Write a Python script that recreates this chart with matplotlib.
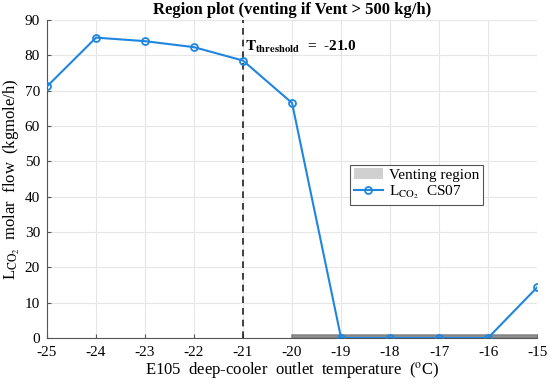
import numpy as np
import matplotlib
matplotlib.use("Agg")
import matplotlib.pyplot as plt
from matplotlib.patches import Patch

plt.rcParams['font.family'] = 'serif'
plt.rcParams['font.serif'] = ['Liberation Serif', 'DejaVu Serif']
plt.rcParams['mathtext.fontset'] = 'stix'
plt.rcParams['axes.unicode_minus'] = False

# data
temps = [-25, -24, -23, -22, -21, -20, -19, -18, -17, -16, -15]
l_co2 = [71.2, 85.0, 84.0, 82.3, 78.5, 66.5, 0.0, 0.0, 0.0, 0.0, 14.3]
vent_start, vent_end = -20, -15
vent_height = 0.9
t_threshold = -21.0

BLUE = '#1f86e0'

fig = plt.figure(figsize=(5.5, 3.84), dpi=100)
ax = fig.add_axes([0.0855, 0.12, 0.891, 0.828])

ax.fill_between([vent_start, vent_end], 0, vent_height, color='#7f7f7f',
                alpha=0.85, lw=1.2, edgecolor='#7f7f7f', zorder=2)
ax.plot(temps, l_co2, '-o', color=BLUE, lw=1.5, ms=5, mfc='none', mew=1.3, zorder=3)
ax.axvline(t_threshold, color='#222222', ls=(0, (4, 3)), lw=1.2, zorder=2)
ax.text(t_threshold + 0.05, 82.5,
        r'$\mathbf{T_{threshold}}$  =  -21.0',
        fontsize=11, fontweight='bold', va='center', ha='left')

ax.set_xlim(-25, -15)
ax.set_ylim(0, 90)
ax.set_xticks(np.arange(-25, -14, 1))
ax.set_yticks(np.arange(0, 91, 10))
ax.tick_params(labelsize=11, direction='in', length=3, color='#555555')
ax.tick_params(axis='x', pad=6)
ax.tick_params(axis='y', pad=5)
ax.grid(True, color='#e6e6e6', lw=0.8)
ax.set_axisbelow(True)
for s in ['top', 'right']:
    ax.spines[s].set_visible(False)
for s in ['left', 'bottom']:
    ax.spines[s].set_color('#555555')
    ax.spines[s].set_linewidth(0.8)

ax.set_title('Region plot (venting if Vent > 500 kg/h)', fontsize=12,
             fontweight='bold', pad=4)
ax.set_xlabel(r'E105  deep-cooler  outlet  temperature  ($^{\mathrm{o}}$C)', fontsize=12, labelpad=1)
ax.set_ylabel(r'L$_{\mathrm{CO_2}}$  molar  flow  (kgmole/h)', fontsize=12, labelpad=2)

handles = [Patch(facecolor='#d0d0d0', edgecolor='none', label='Venting region'),
           plt.Line2D([], [], color=BLUE, marker='o', mfc='none', mew=1.3, ms=5,
                      lw=1.5, label=r'L$_{\mathrm{CO_2}}$  CS07')]
leg = ax.legend(handles=handles, loc='upper left', bbox_to_anchor=(0.618, 0.545),
                fontsize=11, fancybox=False, framealpha=1, edgecolor='#555555',
                borderpad=0.25, handlelength=1.9, handletextpad=0.4, labelspacing=0.1,
                borderaxespad=0)
leg.get_frame().set_linewidth(0.8)

fig.savefig('out.png', dpi=100)
